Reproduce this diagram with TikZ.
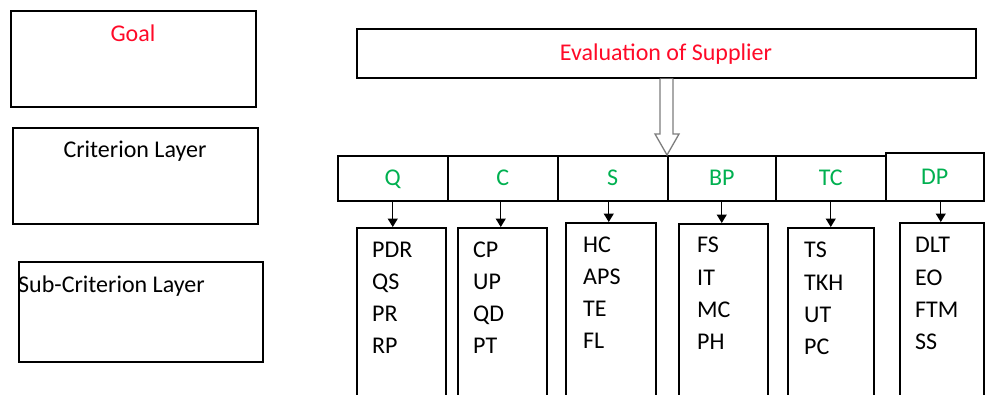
\documentclass[tikz,border=0pt]{standalone}
\usepackage{fontspec}
\setmainfont{Carlito}
\usetikzlibrary{arrows.meta,calc}
\definecolor{goalred}{RGB}{255,10,40}
\definecolor{critgreen}{RGB}{0,176,80}
\definecolor{arrowgray}{RGB}{125,125,125}

\begin{document}
\begin{tikzpicture}[x=1pt,y=-1pt,
  box/.style={draw, line width=1.5pt, rectangle, inner sep=0pt, anchor=north west},
  txt/.style={font=\fontsize{24}{28}\selectfont, inner sep=0pt},
  cell/.style={box, anchor=north west, minimum height=45pt, text=critgreen,
    font=\fontsize{24}{28}\selectfont, text height=15.4pt, text depth=0pt},
  subbox/.style={box, minimum height=180pt},
  item/.style={txt, anchor=west, text height=15.4pt, text depth=0pt},
  smallarrow/.style={draw, line width=1.3pt, -{Triangle[width=10pt,length=8.5pt]}},
  hollow/.style={draw=arrowgray, line width=1.3pt, fill=white, line join=miter}
]
\useasboundingbox (0,0) rectangle (985,394);
\clip (0,0) rectangle (985,394);

% legend of the three layers
\node[box, minimum width=245pt, minimum height=96pt] (goal) at (10,10) {};
\node[txt, text=goalred, anchor=base] (goaltxt) at (133,41) {Goal};
\node[box, minimum width=245pt, minimum height=96pt] (crit) at (12,127) {};
\node[txt, anchor=base] (crittxt) at (135,157) {Criterion Layer};
\node[box, minimum width=244pt, minimum height=100pt] (subc) at (18,261) {};
\node[txt, anchor=base west] (subctxt) at (18,292) {Sub-Criterion Layer};

% goal
\node[box, minimum width=619pt, minimum height=49pt] (eval) at (356,28) {};
\node[txt, text=goalred, anchor=base] (evaltxt) at (666,60) {Evaluation of Supplier};

% criteria row
\node[cell, minimum width=110pt] (q)  at (337,155) {Q};
\node[cell, minimum width=110pt] (c)  at (447,155) {C};
\node[cell, minimum width=110pt] (s)  at (557,155) {S};
\node[cell, minimum width=108pt] (bp) at (667,155) {BP};
\node[cell, minimum width=110pt] (tc) at (775,155) {TC};
\node[cell, minimum width=98pt, minimum height=48pt] (dp) at (885,152) {DP};

% hollow arrow from the goal down to the criteria
\coordinate (tip) at (bp.north west);
\coordinate (top) at (eval.south -| tip);
\draw[hollow] ($(top)+(-7,0)$) -- ($(tip)+(-7,-21)$) -- ($(tip)+(-12,-21)$)
  -- (tip) -- ($(tip)+(12,-21)$) -- ($(tip)+(6,-21)$) -- ($(top)+(6,0)$);

% sub-criteria boxes
\node[subbox, minimum width=89pt] (s1) at (356,227) {};
\node[subbox, minimum width=89pt] (s2) at (457,227) {};
\node[subbox, minimum width=90pt] (s3) at (565,222) {};
\node[subbox, minimum width=89pt] (s4) at (678,223) {};
\node[subbox, minimum width=86pt] (s5) at (787,227) {};
\node[subbox, minimum width=84pt] (s6) at (899,222) {};

% sub-criteria labels
\foreach \t [count=\k] in {PDR,QS,PR,RP}
  \node[item] (a\k) at ($(s1.north west)+(16,{23+(\k-1)*31.8})$) {\t};
\foreach \t [count=\k] in {CP,UP,QD,PT}
  \node[item] (b\k) at ($(s2.north west)+(16,{23+(\k-1)*32})$) {\t};
\foreach \t [count=\k] in {HC,APS,TE,FL}
  \node[item] (d\k) at ($(s3.north west)+(18,{23+(\k-1)*32})$) {\t};
\foreach \t [count=\k] in {FS,IT,MC,PH}
  \node[item] (e\k) at ($(s4.north west)+(19,{22+(\k-1)*32.3})$) {\t};
\foreach \t [count=\k] in {TS,TKH,UT,PC}
  \node[item] (f\k) at ($(s5.north west)+(17,{23+(\k-1)*32.3})$) {\t};
\foreach \t [count=\k] in {DLT,EO,FTM,SS}
  \node[item] (g\k) at ($(s6.north west)+(16,{23+(\k-1)*32.3})$) {\t};

% criterion to sub-criteria connectors
\draw[smallarrow] (q.south) -- (q.south |- s1.north);
\draw[smallarrow] ([xshift=-2pt]c.south) -- ([xshift=-2pt]c.south |- s2.north);
\draw[smallarrow] ([xshift=-4pt]s.south) -- ([xshift=-4pt]s.south |- s3.north);
\draw[smallarrow] (bp.south) -- (bp.south |- s4.north);
\draw[smallarrow] (tc.south) -- (tc.south |- s5.north);
\draw[smallarrow] ([xshift=6pt]dp.south) -- ([xshift=6pt]dp.south |- s6.north);
\end{tikzpicture}
\end{document}
